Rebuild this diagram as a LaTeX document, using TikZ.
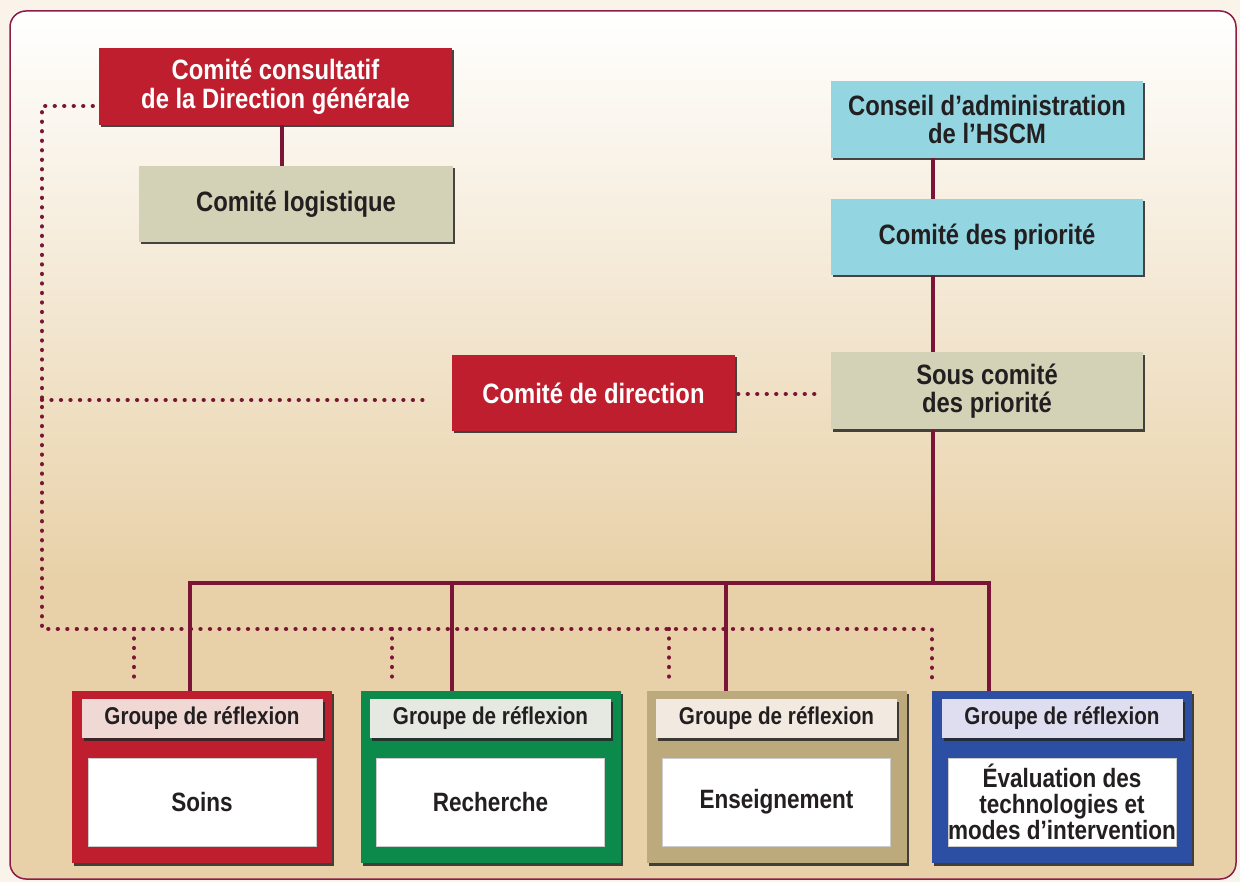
\documentclass[tikz,border=0pt]{standalone}
\usepackage{fontspec}
\setmainfont{Liberation Sans}[FakeStretch=0.85]
\usetikzlibrary{shadows}
\definecolor{outbg}{HTML}{FAF3E9}
\definecolor{panbg}{HTML}{E8D1A8}
\definecolor{pborder}{HTML}{8C1D47}
\definecolor{conn}{HTML}{7A1538}
\definecolor{redbox}{HTML}{BE1E2D}
\definecolor{khaki}{HTML}{D3D1B6}
\definecolor{cyanbox}{HTML}{93D5E0}
\definecolor{txt}{HTML}{231F20}
\definecolor{greenbox}{HTML}{0C8A4B}
\definecolor{olivebox}{HTML}{BCAA7C}
\definecolor{bluebox}{HTML}{2C4EA3}
\definecolor{redhead}{HTML}{F0D9D5}
\definecolor{greenhead}{HTML}{E5E9E1}
\definecolor{olivehead}{HTML}{F2EAE0}
\definecolor{bluehead}{HTML}{DEDEF0}
\tikzset{
  shad/.style={drop shadow={shadow xshift=2pt,shadow yshift=-2.5pt,fill=black!85,opacity=.85}},
  box/.style={shad, inner sep=0pt, align=center, text=txt,
    font=\bfseries\fontsize{28}{28.5}\selectfont},
  redb/.style={box, fill=redbox, text=white},
  khakib/.style={box, fill=khaki},
  cyanb/.style={box, fill=cyanbox},
  grp/.style={shad, inner sep=0pt, minimum width=260pt, minimum height=172pt},
  headb/.style={shad, inner sep=0pt, minimum width=241pt, minimum height=39pt, text=txt,
    font=\bfseries\fontsize{24.3}{25}\selectfont},
  bodyb/.style={fill=white, draw=black!20, line width=1pt, inner sep=0pt, minimum width=228pt,
    minimum height=88pt, align=center, text=txt, font=\bfseries\fontsize{26.5}{26}\selectfont},
  link/.style={draw=conn, line width=4pt},
  dots/.style={draw=conn, line width=4.3pt, line cap=round, dash pattern=on 0.01pt off 9.5pt}
}
\begin{document}
\begin{tikzpicture}[x=1pt,y=-1pt]
\useasboundingbox (0,0) rectangle (1240,882);
\fill[outbg] (0,0) rectangle (1240,882);
\begin{scope}
  \clip[rounded corners=16pt] (10,11) rectangle (1236,879);
  \fill[panbg] (10,11) rectangle (1236,879);
  \shade[top color=white, bottom color=panbg] (10,11) rectangle (1236,580);
\end{scope}
\draw[pborder, line width=1.5pt, rounded corners=16pt] (10,11) rectangle (1236,879);

% boxes
\node[redb, minimum width=353pt, minimum height=77pt] (cc) at (275.5,86.5) {Comité consultatif\\de la Direction générale};
\node[khakib, minimum width=314pt, minimum height=76pt] (cl) at (296,204) {Comité logistique};
\node[cyanb, minimum width=312pt, minimum height=77pt] (ca) at (987,119.5) {Conseil d’administration\\de l’HSCM};
\node[cyanb, minimum width=312pt, minimum height=76pt] (cp) at (987,237) {Comité des priorité};
\node[khakib, minimum width=312pt, minimum height=77pt] (sc) at (987,391) {Sous comité\\des priorité};
\node[redb, minimum width=283pt, minimum height=76pt] (cd) at (593.5,393) {Comité de direction};

% groups
\coordinate (hrow) at (0,718.5);
\coordinate (brow) at (0,802);
\node[grp, fill=redbox] (g1) at (202,777) {};
\node[grp, fill=greenbox] (g2) at (490.5,777) {};
\node[grp, fill=olivebox] (g3) at (776.5,777) {};
\node[grp, fill=bluebox] (g4) at (1062,777) {};
\node[headb, fill=redhead] (h1) at (g1 |- hrow) {Groupe de réflexion};
\node[headb, fill=greenhead] (h2) at (g2 |- hrow) {Groupe de réflexion};
\node[headb, fill=olivehead] (h3) at (g3 |- hrow) {Groupe de réflexion};
\node[headb, fill=bluehead] (h4) at (g4 |- hrow) {Groupe de réflexion};
\node[bodyb] (b1) at (g1 |- brow) {Soins};
\node[bodyb] (b2) at (g2 |- brow) {Recherche};
\node[bodyb] (b3) at (g3 |- brow) {Enseignement};
\node[bodyb] (b4) at (g4 |- brow) {Évaluation des\\technologies et\\modes d’intervention};

% solid connectors
\coordinate (c1x) at (282,0);
\draw[link] (cc.south -| c1x) -- (cl.north -| c1x);
\coordinate (spine) at (933,0);
\coordinate (bus) at (0,583);
\draw[link] (ca.south -| spine) -- (cp.north -| spine);
\draw[link] (cp.south -| spine) -- (sc.north -| spine);
\draw[link] (sc.south -| spine) -- (spine |- bus);
\coordinate (d1) at (190,583);
\coordinate (d2) at (452,583);
\coordinate (d3) at (726,583);
\coordinate (d4) at (989,583);
\draw[link] (g1.north -| d1) -- (d1) -- (d4) -- (g4.north -| d4);
\draw[link] (d2) -- (g2.north -| d2);
\draw[link] (d3) -- (g3.north -| d3);

% dotted connectors
\coordinate (dtl) at (42,106);
\coordinate (dbl) at (42,629);
\coordinate (dbr) at (932,629);
\coordinate (dend) at (0,680);
\coordinate (dm) at (42,400);
\coordinate (dr) at (0,394);
\draw[dots] ([xshift=-6pt]cc.west |- dtl) -- (dtl) -- (dbl) -- (dbr) -- (dbr |- dend);
\draw[dots] (dm) -- ([xshift=-25pt]cd.west |- dm);
\draw[dots] ([xshift=3pt]cd.east |- dr) -- ([xshift=-14pt]sc.west |- dr);
\coordinate (e1) at (134,629);
\coordinate (e2) at (392,629);
\coordinate (e3) at (669,629);
\draw[dots] (e1) -- (e1 |- dend);
\draw[dots] (e2) -- (e2 |- dend);
\draw[dots] (e3) -- (e3 |- dend);
\end{tikzpicture}
\end{document}
